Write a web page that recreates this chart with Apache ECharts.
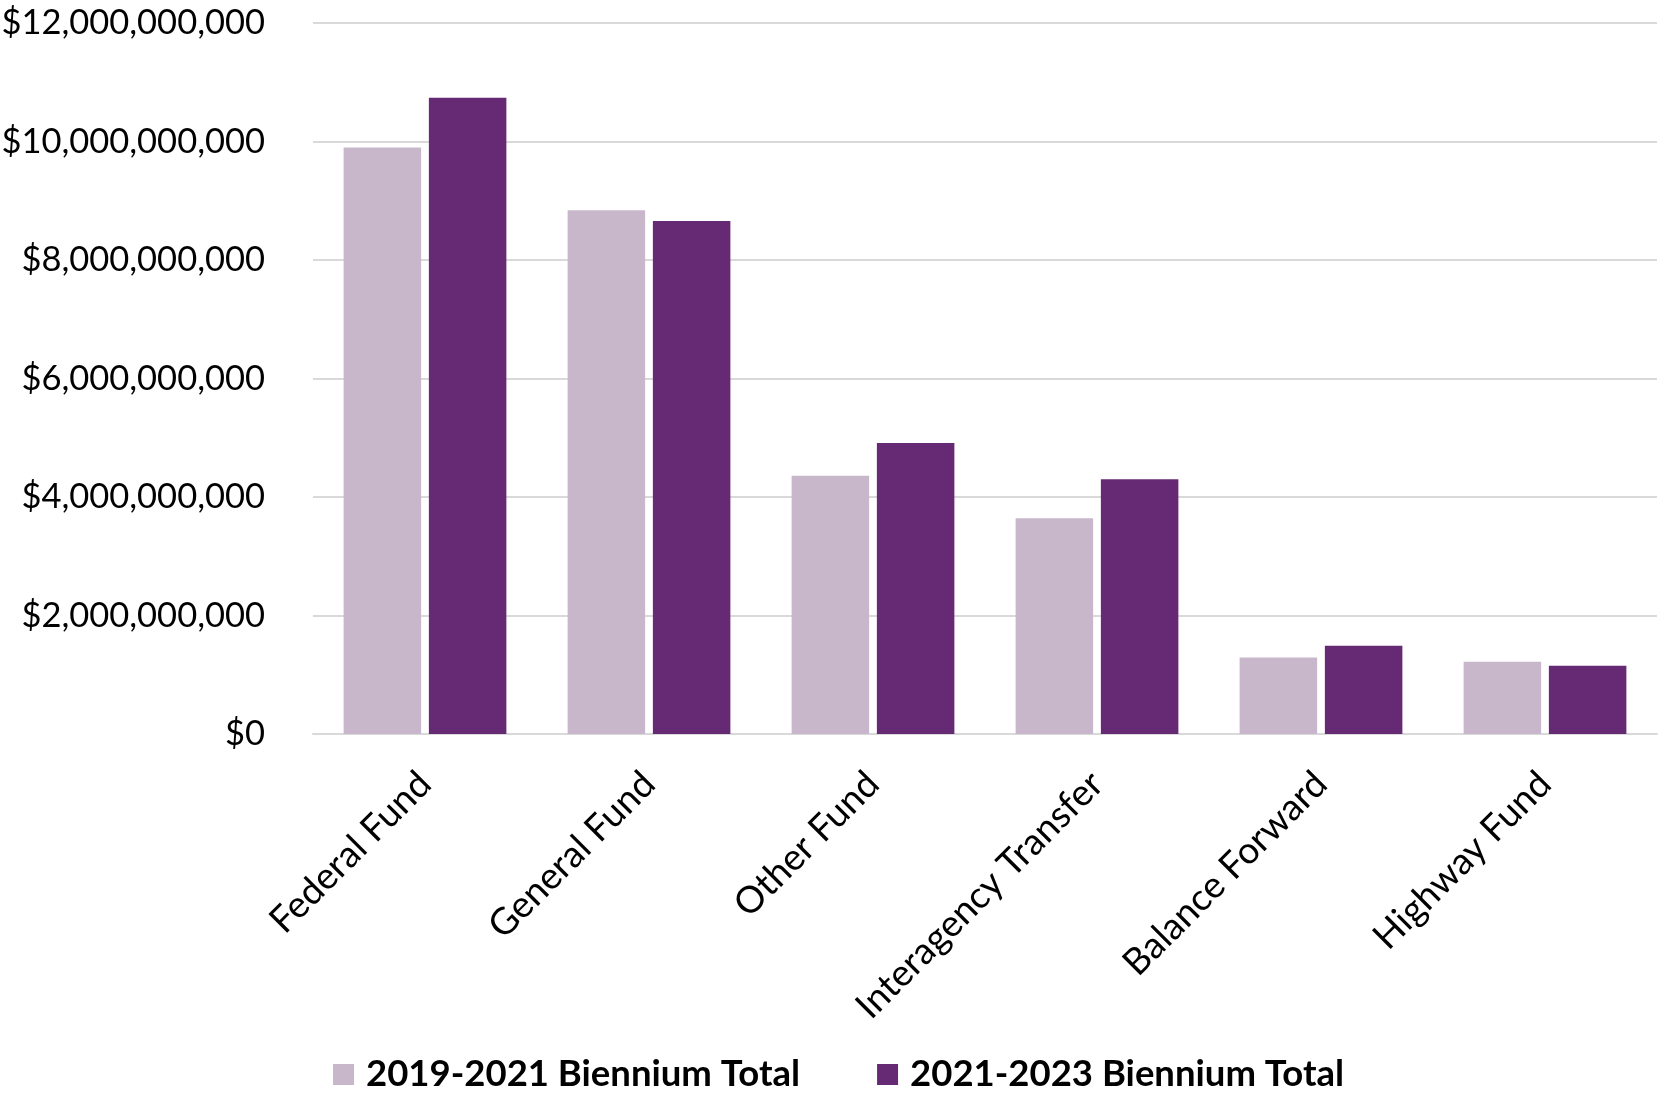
<!DOCTYPE html>
<html><head><meta charset="utf-8">
<script src="https://cdn.jsdelivr.net/npm/echarts@6/dist/echarts.min.js"></script>
<style>html,body{margin:0;padding:0;background:#fff}#c{width:1665px;height:1095px}</style>
</head><body><div id="c"></div>
<script>
const categories = ['Federal Fund','General Fund','Other Fund','Interagency Transfer','Balance Forward','Highway Fund'];
const seriesNames = ['2019-2021 Biennium Total','2021-2023 Biennium Total'];
const values2019 = [9900000000, 8840000000, 4360000000, 3640000000, 1290000000, 1220000000];
const values2021 = [10740000000, 8660000000, 4910000000, 4300000000, 1490000000, 1150000000];
const yTicks = {min:0, max:12000000000, interval:2000000000};

const FONT = 'Lato';
const chart = echarts.init(document.getElementById('c'));
chart.setOption({
  animation:false,
  backgroundColor:'#fff',
  grid:{left:313, right:8, top:23, bottom:361, containLabel:false, outerBoundsMode:'none'},
  legend:{
    bottom:-3, left:328, itemWidth:21, itemHeight:21, itemGap:77,
    icon:'rect',
    textStyle:{fontFamily:FONT, fontWeight:'bold', fontSize:36.5, color:'#000', padding:[0,0,0,7]},
    data:seriesNames
  },
  xAxis:{
    type:'category', data:categories,
    axisLine:{show:true, lineStyle:{color:'#D9D9D9', width:2}},
    axisTick:{show:false},
    axisLabel:{rotate:45, margin:44, interval:0, fontFamily:FONT, fontSize:37, color:'#000'}
  },
  yAxis:{
    type:'value', min:yTicks.min, max:yTicks.max, interval:yTicks.interval,
    axisLine:{show:false}, axisTick:{show:false},
    splitLine:{lineStyle:{color:'#D9D9D9', width:2}},
    axisLabel:{margin:48, fontFamily:FONT, fontSize:34.5, color:'#000',
      formatter:v=>'$'+v.toLocaleString('en-US')}
  },
  series:[
    {name:seriesNames[0], type:'bar', data:values2019, barWidth:'34.6%', barGap:'10%',
     itemStyle:{color:'#C8B7CB'}},
    {name:seriesNames[1], type:'bar', data:values2021, barWidth:'34.6%', barGap:'10%',
     itemStyle:{color:'#662A75'}}
  ]
});
</script></body></html>
